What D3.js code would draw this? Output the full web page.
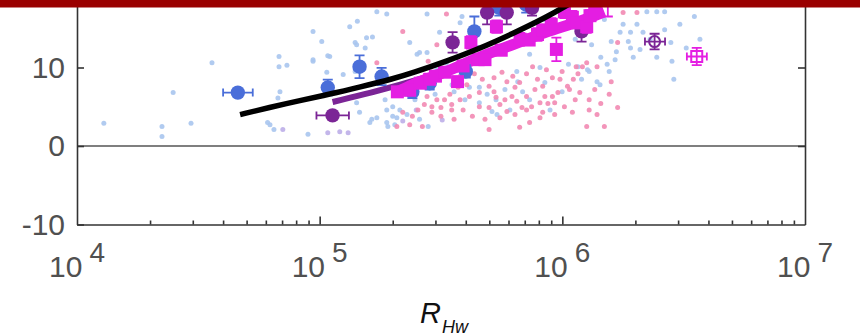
<!DOCTYPE html>
<html>
<head>
<meta charset="utf-8">
<script src="https://cdn.jsdelivr.net/npm/d3@7"></script>
<style>
  html, body { margin: 0; padding: 0; background: #fff; }
  svg { display: block; }
  text { font-family: "Liberation Sans", Arial, Helvetica, sans-serif; }
</style>
</head>
<body>
<svg id="chart" width="860" height="336"></svg>
<script>
// ---- data: [R_Hw, value] for the light scatter clouds ----
const lightBlueDots = [
  [1.29e4,2.9],[2.24e4,2.5],[2.24e4,1.2],[2.49e4,6.8],[2.95e4,2.9],[3.6e4,10.6],
  [6.8e4,11.4],[6.8e4,10.1],[7.33e4,10.3],[6.86e4,6.9],[6.73e4,6.1],[6.24e4,2.7],[6.48e4,2.1],
  [9.39e4,14.6],[1.02e5,13.3],[9.39e4,10.8],[1.10e5,11.4],[8.95e4,1.5],[1.33e5,15.2],[1.43e5,15.9],
  [1.40e5,13.2],[1.56e5,13.8],[1.65e5,13.9],[1.72e5,17.1],[1.89e5,16.8],[1.46e5,4.3],[1.61e5,3.0],
  [1.72e5,3.6],[1.89e5,4.6],[2.0e5,5.0],[2.14e5,4.6],[2.08e5,3.6],[2.29e5,4.0],[2.35e5,13.2],
  [2.52e5,11.7],[2.77e5,11.9],[2.77e5,16.8],[1.25e5,9.1],[1.40e5,9.5],[1.42e5,12.9],[1.54e5,12.5],
  [1.42e5,5.5],[1.64e5,3.4],[1.89e5,3.0],[6.1e4,3.0],[9.39e4,11.0],[1.08e5,11.5],[1.07e5,9.4],
  [3.12e5,14.5],[3.79e5,15.7],[2.58e5,11.9],[3.33e5,10.6],[4.55e5,7.5],[4.9e5,6.6],[5.33e5,5.9],
  [6.49e5,9.5],[6.55e5,8.2],[6.86e5,6.9],[8.09e5,10.0],[8.47e5,8.1],[9.98e5,6.9],[1.06e6,10.4],
  [2.0e5,3.8],[1.91e5,2.5],[2.8e5,2.5],[4.55e5,5.5],[5.13e5,4.4],[5.38e5,4.0],[3.86e5,16.5],
  [1.78e6,15.5],[1.91e6,14.5],[2.03e6,15.5],[2.15e6,14.5],[2.23e6,17.1],[2.45e6,17.1],[2.64e6,17.1],
  [3.5e6,16.5],[1.59e6,13.3],[1.67e6,12.0],[1.91e6,12.5],[1.96e6,11.3],[2.09e6,12.3],[2.45e6,11.3],
  [2.8e6,13.2],[3.24e6,12.5],[2.83e6,10.8],[2.88e6,8.5],[1.39e6,8.2],[1.43e6,7.8],[1.56e6,9.5],
  [1.29e6,9.5],[1.20e6,8.5],[1.16e6,10.1],[1.73e6,14.5],[1.87e6,13.3],[1.44e6,11.3],[1.53e6,10.4],
  [1.27e6,9.7],[3.04e5,9.7],[3.58e5,6.9],[4.14e5,7.5],[5.8e5,7.2],[7.33e5,11.7],[9.78e5,14.8],
  [1.13e6,13.6],[1.49e6,16.1],[8.47e5,16.1],
  [2.25e5,6.6],[2.47e5,5.9],[2.99e5,6.6],[3.51e5,7.8],[3.97e5,5.9],[6.08e5,4.6],[7.33e5,5.9],
  [8.9e5,4.6],[1.86e5,5.9],[2.04e5,2.7],[2.58e5,3.4],[1.32e6,12.9],[1.65e6,11.0],[2.3e6,13.6],
  [2.64e6,14.8],[3.05e6,15.5],[3.69e6,13.6]
];
const lavenderDots = [
  [7.05e4,2.1],[1.08e5,1.7],[1.21e5,1.8],[1.31e5,1.7],[2.2e5,3.2],[2.5e5,4.6],[3.2e5,3.3]
];
const pinkDots = [
  [2.2e5,14.6],[1.72e5,10.6],[2.08e5,2.5],[2.35e5,2.7],[2.65e5,2.5],[2.8e5,10.8],[3.04e5,12.9],
  [3.79e5,8.9],[4.34e5,9.2],[4.68e5,8.5],[4.99e5,7.6],[5.23e5,8.7],[5.64e5,9.4],[5.91e5,8.2],
  [6.25e5,8.9],[6.67e5,8.1],[7.12e5,9.2],[7.54e5,10.1],[7.9e5,8.5],[8.6e5,9.7],[9.1e5,8.7],
  [9.98e5,9.5],[1.05e6,7.6],[1.11e6,8.5],[1.14e6,10.1],[3.79e5,5.9],[4.14e5,6.3],[4.55e5,5.0],
  [4.99e5,4.9],[5.53e5,5.3],[5.91e5,4.4],[6.49e5,5.7],[7.12e5,6.3],[7.47e5,5.0],[8.3e5,4.3],
  [9.1e5,6.3],[1.02e6,5.0],[7.33e5,3.0],[2.41e5,3.8],[2.2e5,4.3],[2.70e5,5.3],[2.9e5,4.3],
  [3.16e5,4.9],[3.27e5,5.9],[3.5e5,4.6],[3.9e5,4.6],[4.26e5,3.8],[2.77e5,6.3],[1.78e6,17.0],
  [2.03e6,17.0],[1.26e6,10.6],[1.39e6,10.1],[1.59e6,8.2],[1.69e6,4.9],[1.39e6,4.0],[1.26e6,2.5],
  [1.49e6,2.5],[9.3e5,5.5],[8.47e5,6.3],[6.2e5,6.3],[5.33e5,6.2],[4.55e5,6.8],[3.5e5,5.3],
  [3.16e5,3.8],[2.9e5,5.0],[7.12e5,4.6],[8.09e5,5.5],[1.07e6,7.2],[1.18e6,6.8],[9.78e5,8.5],
  [8.3e5,7.6],[1.69e6,13.2],[1.16e6,9.2],[1.21e6,10.1],[3.33e5,16.8],
  [3.72e5,7.5],[4.04e5,7.8],[5.23e5,6.9],[5.8e5,5.9],[6.38e5,7.5],[6.82e5,4.9],[7.71e5,7.2],
  [8.72e5,5.4],[9.59e5,6.8],[1.13e6,5.9],[1.29e6,5.9],[1.36e6,7.2],[1.56e6,6.6],[3.44e5,6.6],
  [3.04e5,5.9],[2.54e5,4.6],[3.58e5,3.4],[4.8e5,3.4],[5.53e5,3.6],[6.38e5,4.0],[8.09e5,3.6],
  [9.3e5,4.0],[1.1e6,4.3],[4.99e5,2.1],[6.67e5,2.4],[1.29e6,4.6],[1.44e6,5.4]
];

// ---- binned means: [R_Hw, value, yErr, xLow, xHigh] ----
const blueMeans = [
  [4.6e4,6.8,0.3,4.0e4,5.3e4],[1.08e5,7.45,1.0],[1.46e5,10.1,1.45],[1.8e5,8.85,1.1],
  [2.41e5,6.9,0.8],[2.84e5,8.0,0.8],[4.0e5,9.5,0.8],[4.34e5,14.6,1.9],[5.5e5,17.6,1.0],[7.1e5,18.0,1.0]
];
const purpleMeans = [
  [1.13e5,3.9,0.3,9.7e4,1.32e5],[3.53e5,13.2,1.3],[4.9e5,17.0,1.5],[5.9e5,17.0,1.5],
  [7.5e5,17.6,1.0],[1.2e6,14.6,1.3]
];
const purpleOpen = [[2.4e6,13.3,1.0,2.19e6,2.65e6]];
const magentaMeans = [
  [2.09e5,6.9,0.4],[2.35e5,7.1,0.5],[2.6e5,8.0,0.4],[2.84e5,8.5,0.5],[3.0e5,8.9,0.5],
  [3.27e5,9.4,0.5],[3.7e5,8.2,0.6],[3.9e5,10.2,0.5],[4.2e5,13.2,0.8],[4.5e5,11.0,0.5],
  [4.8e5,11.0,0.6],[5.35e5,15.2,0.8],[5.6e5,12.2,0.6],[6.7e5,13.6,0.8],[7.3e5,13.5,0.6],
  [7.9e5,14.2,0.8],[8.3e5,14.8,0.6],[9.0e5,15.5,0.8],[9.45e5,12.3,1.5],[1.02e6,17.1,0.8],
  [1.1e6,16.4,0.8],[1.15e6,15.7,0.7],[1.26e6,15.2,0.8],[1.3e6,16.6,0.7],[1.36e6,17.1,0.8],
  [1.54e6,19.0,2.5]
];
const magentaOpen = [[3.58e6,11.4,1.1,3.26e6,3.94e6]];

// ---- fitted curves: [R_Hw, value] ----
const fitBlack = [
  [4.7e4,4.0],[6.2e4,4.9],[8.3e4,5.8],[1.1e5,6.6],[1.46e5,7.5],[2.03e5,8.6],[2.41e5,9.3],
  [3.33e5,10.8],[4.55e5,12.4],[6.23e5,14.3],[8.6e5,16.4],[1.07e6,18.1]
];
const fitPurple = [[1.13e5,5.6],[1.53e5,6.6],[2.13e5,7.8],[2.7e5,8.7]];
const fitMagenta = [
  [2.09e5,6.9],[2.41e5,7.8],[3.33e5,9.5],[4.55e5,11.3],[6.23e5,12.9],[8.6e5,14.5],
  [1.18e6,15.9],[1.49e6,17.1]
];

const yTicks = [-10, 0, 10];
const xTickExponents = [4, 5, 6, 7];

// ---- scales ----
const svg = d3.select("#chart");
const x = d3.scaleLog().domain([1e4, 1e7]).range([77, 805]);
const y = d3.scaleLinear().domain([-10, 20]).range([224.5, -11]);

const C = {
  lightBlue: "#a8c5ee", pink: "#f28ab2", lavender: "#bcaee8",
  blue: "#4a6ed9", purple: "#7b2596", magenta: "#e41ee2",
  axis: "#333", label: "#505050", band: "#9a0000"
};

svg.append("defs").append("clipPath").attr("id", "plotClip")
  .append("rect").attr("x", 77).attr("y", -20).attr("width", 728).attr("height", 244.5);

const plot = svg.append("g").attr("clip-path", "url(#plotClip)");

// zero reference line
svg.append("line")
  .attr("x1", 77).attr("x2", 805).attr("y1", y(0)).attr("y2", y(0))
  .attr("stroke", "#555").attr("stroke-width", 1.5);

// light scatter clouds
function dots(data, color) {
  plot.append("g").selectAll("circle").data(data).join("circle")
    .attr("cx", d => x(d[0])).attr("cy", d => y(d[1])).attr("r", 2.5)
    .attr("fill", color).attr("opacity", 0.9);
}
dots(lightBlueDots, C.lightBlue);
dots(lavenderDots, C.lavender);
dots(pinkDots, C.pink);

// fitted curves under the markers
const line = d3.line().x(d => x(d[0])).y(d => y(d[1])).curve(d3.curveMonotoneX);
plot.append("path").datum(fitPurple).attr("d", line)
  .attr("fill", "none").attr("stroke", C.purple).attr("stroke-width", 6);
plot.append("path").datum(fitMagenta).attr("d", line)
  .attr("fill", "none").attr("stroke", C.magenta).attr("stroke-width", 11);

// markers with error bars
function markers(data, color, shape, open) {
  const g = plot.append("g");
  data.forEach(d => {
    const cx = x(d[0]), cy = y(d[1]);
    const s = g.append("g").attr("stroke", color).attr("stroke-width", 1.8).attr("fill", "none");
    if (d[2]) {
      const y0 = y(d[1] - d[2]), y1 = y(d[1] + d[2]);
      s.append("line").attr("x1", cx).attr("x2", cx).attr("y1", y0).attr("y2", y1);
      [y0, y1].forEach(yy => s.append("line")
        .attr("x1", cx - 5).attr("x2", cx + 5).attr("y1", yy).attr("y2", yy));
    }
    if (d[3]) {
      const x0 = x(d[3]), x1 = x(d[4]);
      s.append("line").attr("x1", x0).attr("x2", x1).attr("y1", cy).attr("y2", cy);
      [x0, x1].forEach(xx => s.append("line")
        .attr("x1", xx).attr("x2", xx).attr("y1", cy - 4).attr("y2", cy + 4));
    }
    const m = shape === "circle"
      ? g.append("circle").attr("cx", cx).attr("cy", cy).attr("r", open ? 5.5 : 7.2)
      : g.append("rect").attr("x", cx - (open ? 5.5 : 6.5)).attr("y", cy - (open ? 5.5 : 6.5))
          .attr("width", open ? 11 : 13).attr("height", open ? 11 : 13);
    if (open) m.attr("fill", "none").attr("stroke", color).attr("stroke-width", 2);
    else m.attr("fill", color);
  });
}
markers(blueMeans, C.blue, "circle", false);
markers(purpleMeans, C.purple, "circle", false);
markers(magentaMeans, C.magenta, "square", false);
markers(purpleOpen, C.purple, "circle", true);
markers(magentaOpen, C.magenta, "square", true);

// overall fit on top
plot.append("path").datum(fitBlack).attr("d", line.curve(d3.curveBasis))
  .attr("fill", "none").attr("stroke", "#000").attr("stroke-width", 5.5);

// ---- axes (ticks point inward) ----
function styleAxis(g) {
  g.selectAll("path, line").attr("stroke", C.axis).attr("stroke-width", 1.6);
}
const minorTicks = [];
[1e4, 1e5, 1e6].forEach(b => { for (let k = 2; k <= 9; k++) minorTicks.push(b * k); });

svg.append("g").attr("transform", `translate(0,${y(-10)})`)
  .call(d3.axisBottom(x).tickValues(minorTicks).tickSizeInner(-4).tickSizeOuter(0).tickFormat(""))
  .call(styleAxis);
svg.append("g").attr("transform", `translate(0,${y(-10)})`)
  .call(d3.axisBottom(x).tickValues([1e5, 1e6]).tickSizeInner(-8).tickSizeOuter(0).tickFormat(""))
  .call(g => g.select(".domain").remove())
  .call(styleAxis);

svg.append("g").attr("transform", "translate(77,0)")
  .call(d3.axisLeft(y).tickValues(yTicks).tickSizeInner(-7).tickSizeOuter(0).tickPadding(12)
    .tickFormat(d => String(d)))
  .call(styleAxis)
  .call(g => g.selectAll("text").attr("fill", C.label).attr("font-size", 30)
    .attr("font-family", "'Liberation Sans', Arial, sans-serif"));
svg.append("g").attr("transform", "translate(805,0)")
  .call(d3.axisRight(y).tickValues([0, 10]).tickSizeInner(-7).tickSizeOuter(0).tickFormat(""))
  .call(styleAxis);

// x tick labels as powers of ten
const xl = svg.append("g").selectAll("text").data(xTickExponents).join("text")
  .attr("x", e => x(Math.pow(10, e))).attr("y", 277)
  .attr("text-anchor", "middle").attr("fill", C.label).attr("font-size", 30);
xl.append("tspan").text("10");
xl.append("tspan").attr("dx", 7).attr("dy", -15).attr("font-size", 28).text(e => e);

// axis title
const t = svg.append("text").attr("x", 420).attr("y", 323).attr("fill", "#111")
  .attr("font-style", "italic").attr("font-size", 29);
t.append("tspan").text("R");
t.append("tspan").attr("dx", 1).attr("dy", 10).attr("font-size", 18).text("Hw");

// header band
svg.append("rect").attr("x", 0).attr("y", 0).attr("width", 860).attr("height", 7.5)
  .attr("fill", C.band);
</script>
</body>
</html>
